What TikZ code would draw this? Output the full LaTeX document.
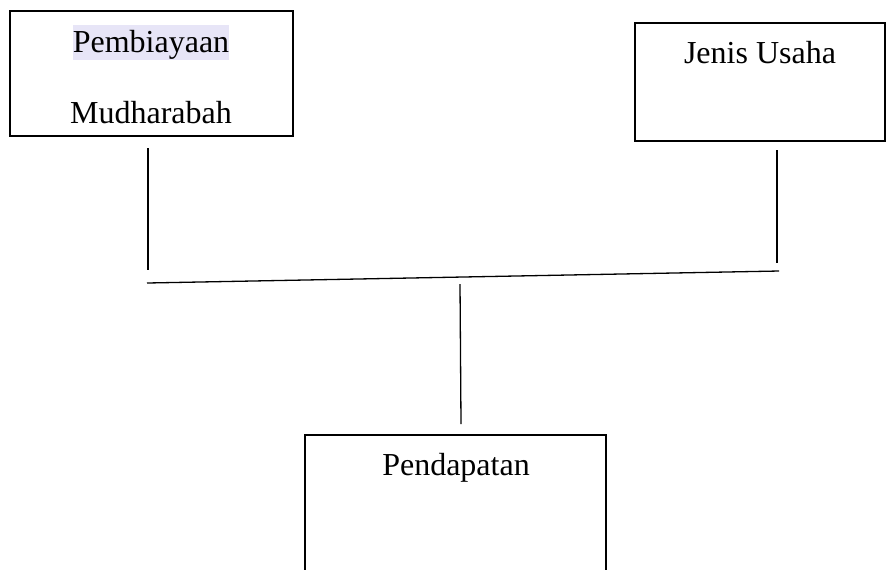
\documentclass[tikz,border=0pt]{standalone}
\usepackage{fontspec}
\setmainfont{Liberation Serif}
\definecolor{lavender}{HTML}{E7E5F7}
\begin{document}
\begin{tikzpicture}[x=0.5pt,y=-0.5pt,font=\fontsize{16}{19}\selectfont,
  box/.style={draw, line width=0.8pt, inner sep=0pt},
  conn/.style={line width=0.65pt}]
\clip (0,0) rectangle (886,569);
\node[box, minimum width=141.5pt, minimum height=62.5pt] (pm) at (151.5,73.5) {};
\node[box, minimum width=125pt, minimum height=59pt] (ju) at (760,82) {};
\node[box, minimum width=150.5pt, minimum height=72pt] (pd) at (455.5,507) {};
\node[fill=lavender, inner sep=0pt, text height=13.4pt, text depth=4pt, anchor=base] (pmtop) at (151,52) {Pembiayaan};
\node[anchor=base] (pmbot) at (151,123) {Mudharabah};
\node[anchor=base] (jutxt) at (760,63) {Jenis Usaha};
\node[anchor=base] (pdtxt) at (456,475) {Pendapatan};
\coordinate (a1) at (148,148);
\coordinate (a2) at (148,270);
\coordinate (b1) at (777,150);
\coordinate (b2) at (777,263);
\coordinate (h1) at (147,283);
\coordinate (h2) at (779,271);
\coordinate (m1) at (460,284);
\coordinate (m2) at (461,424);
\draw[conn] (a1) -- (a2);
\draw[conn] (b1) -- (b2);
\draw[conn] (h1) -- (h2);
\draw[conn] (m1) -- (m2);
\end{tikzpicture}
\end{document}
